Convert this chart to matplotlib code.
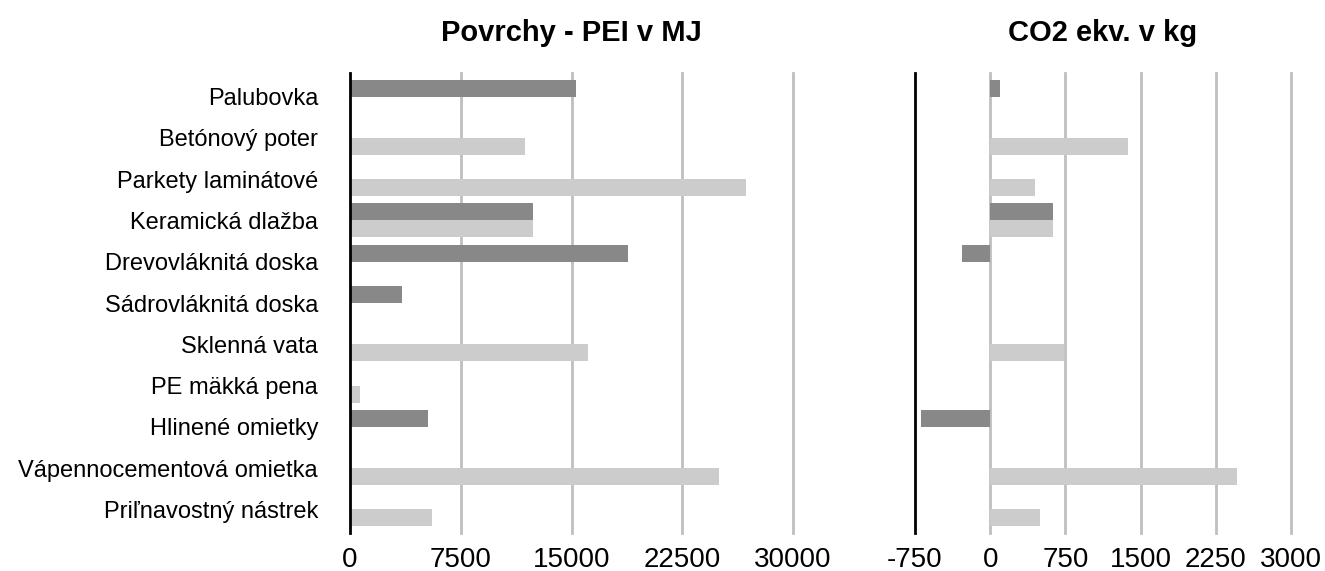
import matplotlib
matplotlib.use("Agg")
import matplotlib.pyplot as plt
import numpy as np

plt.rcParams['font.family'] = ['Liberation Sans', 'DejaVu Sans']

categories = ['Palubovka', 'Betónový poter', 'Parkety laminátové', 'Keramická dlažba',
              'Drevovláknitá doska', 'Sádrovláknitá doska', 'Sklenná vata', 'PE mäkká pena',
              'Hlinené omietky', 'Vápennocementová omietka', 'Priľnavostný nástrek']
pei_dark = [15300, 0, 0, 12380, 18850, 3550, 0, 0, 5300, 0, 0]
pei_light = [0, 11850, 26850, 12380, 0, 0, 16100, 650, 0, 25000, 5550]
co2_dark = [95, 0, 0, 630, -280, 0, 0, 0, -690, 0, 0]
co2_light = [0, 1375, 450, 630, 0, 0, 740, 0, 0, 2460, 500]
pei_ticks = [0, 7500, 15000, 22500, 30000]
co2_ticks = [-750, 0, 750, 1500, 2250, 3000]

dark = '#878887'
light = '#cbcccb'
grid = '#bfbfbf'

fig = plt.figure(figsize=(13.25, 5.71), dpi=100)
ax1 = fig.add_axes([350/1325, 38/571, 443/1325, 460/571])
ax2 = fig.add_axes([915/1325, 38/571, 376/1325, 460/571])

y = np.arange(len(categories))
h = 0.41

def style(ax, dvals, lvals, ticks, xlim, title):
    ax.barh(y - h/2, dvals, height=h, color=dark, zorder=3)
    ax.barh(y + h/2, lvals, height=h, color=light, zorder=3)
    ax.set_xlim(*xlim)
    ax.set_ylim(10.57, -0.57)
    ax.set_xticks(ticks)
    ax.set_xticklabels([str(t) for t in ticks], fontsize=20)
    ax.tick_params(axis='x', length=0, pad=10)
    ax.tick_params(axis='y', length=0)
    for t in ticks:
        if t != xlim[0]:
            ax.axvline(t, color=grid, lw=2, zorder=1, clip_on=False)
    for s in ['top', 'right', 'bottom']:
        ax.spines[s].set_visible(False)
    ax.spines['left'].set_linewidth(2)
    ax.spines['left'].set_color('black')
    ax.spines['left'].set_zorder(4)
    ax.set_title(title, fontsize=21, fontweight='bold', pad=23)

style(ax1, pei_dark, pei_light, pei_ticks, (0, 30000), 'Povrchy - PEI v MJ')
style(ax2, co2_dark, co2_light, co2_ticks, (-750, 3000), 'CO2 ekv. v kg')

ax1.set_yticks(y)
ax1.set_yticklabels(categories, fontsize=17)
ax1.tick_params(axis='y', pad=23)
ax2.set_yticks([])

fig.savefig('out.png', dpi=100)
